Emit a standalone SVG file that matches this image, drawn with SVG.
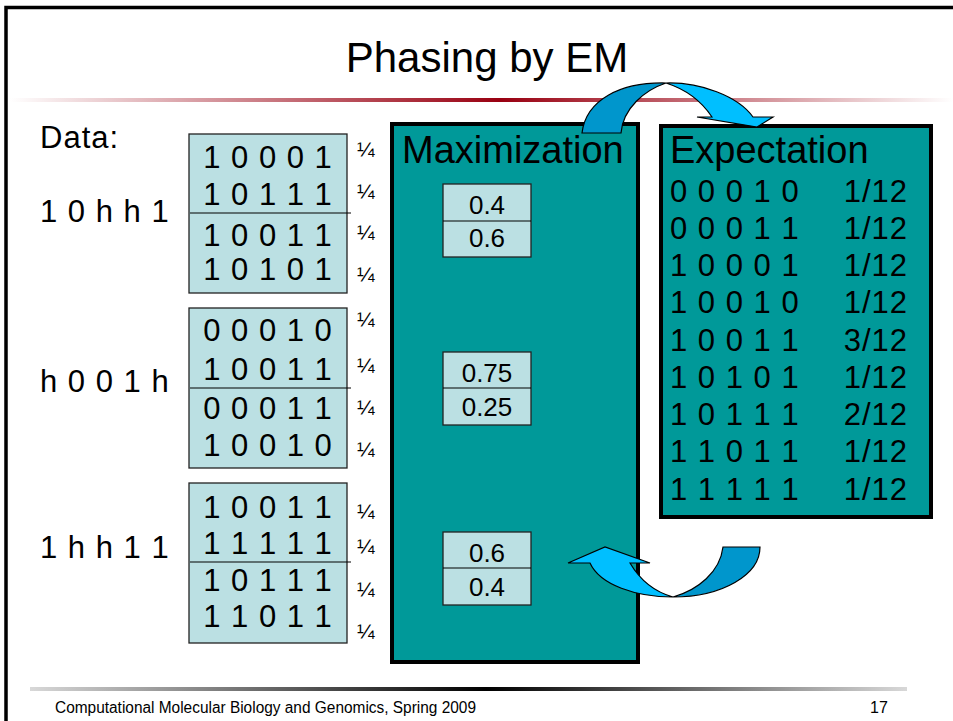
<svg xmlns="http://www.w3.org/2000/svg" width="953" height="721" viewBox="0 0 953 721">
<defs>
<linearGradient id="redline" x1="0" y1="0" x2="1" y2="0">
<stop offset="0" stop-color="#ffffff"/>
<stop offset="0.52" stop-color="#990011"/>
<stop offset="1" stop-color="#ffffff"/>
</linearGradient>
<linearGradient id="grayline" x1="0" y1="0" x2="1" y2="0">
<stop offset="0" stop-color="#d8d8d8"/>
<stop offset="0.52" stop-color="#000000"/>
<stop offset="1" stop-color="#d8d8d8"/>
</linearGradient>
<style>
text{font-family:"Liberation Sans",Arial,sans-serif;fill:#000}
.hap{font-size:31px;letter-spacing:1px}
.lbl{font-size:31px;letter-spacing:1px}
.q{font-size:21px}
.big{font-size:38px}
.num{font-size:26px;text-anchor:middle}
.lbox{fill:#BBE0E3;stroke:#222;stroke-width:1.3}
.div{stroke:#000;stroke-width:1.2}
.panel{fill:#009999;stroke:#000;stroke-width:4}
.dark{fill:#0096CC;stroke:#000;stroke-width:1.2}
.light{fill:#00BFFF;stroke:#000;stroke-width:1.2}
.fr{text-anchor:end}
.foot{font-size:16px}
</style>
</defs>
<rect x="0" y="0" width="953" height="721" fill="#fff"/>
<path d="M6 721 V7.5 H953" fill="none" stroke="#000" stroke-width="3.5"/>
<g id="title">
<text x="487" y="72" font-size="42" text-anchor="middle">Phasing by EM</text>
<rect x="10" y="98" width="943" height="4" fill="url(#redline)"/>
</g>
<g id="data-label"><text class="lbl" x="40" y="148">Data:</text></g>
<g id="genotype1">
<text class="lbl" x="40" y="222">1 0 h h 1</text>
<rect class="lbox" x="189" y="134" width="158" height="159"/>
<line class="div" x1="190" y1="213" x2="351" y2="213"/>
<text class="hap" x="268" y="168" text-anchor="middle">1 0 0 0 1</text>
<text class="hap" x="268" y="205" text-anchor="middle">1 0 1 1 1</text>
<text class="hap" x="268" y="246" text-anchor="middle">1 0 0 1 1</text>
<text class="hap" x="268" y="280" text-anchor="middle">1 0 1 0 1</text>
<text class="q" x="357" y="156">¼</text>
<text class="q" x="357" y="198">¼</text>
<text class="q" x="357" y="239">¼</text>
<text class="q" x="357" y="281">¼</text>
</g>
<g id="genotype2">
<text class="lbl" x="40" y="392">h 0 0 1 h</text>
<rect class="lbox" x="189" y="308" width="158" height="160"/>
<line class="div" x1="190" y1="388" x2="351" y2="388"/>
<text class="hap" x="268" y="341" text-anchor="middle">0 0 0 1 0</text>
<text class="hap" x="268" y="380" text-anchor="middle">1 0 0 1 1</text>
<text class="hap" x="268" y="419" text-anchor="middle">0 0 0 1 1</text>
<text class="hap" x="268" y="456" text-anchor="middle">1 0 0 1 0</text>
<text class="q" x="357" y="326">¼</text>
<text class="q" x="357" y="372">¼</text>
<text class="q" x="357" y="414">¼</text>
<text class="q" x="357" y="456">¼</text>
</g>
<g id="genotype3">
<text class="lbl" x="40" y="558">1 h h 1 1</text>
<rect class="lbox" x="189" y="483" width="158" height="160"/>
<line class="div" x1="190" y1="562" x2="351" y2="562"/>
<text class="hap" x="268" y="518" text-anchor="middle">1 0 0 1 1</text>
<text class="hap" x="268" y="554" text-anchor="middle">1 1 1 1 1</text>
<text class="hap" x="268" y="591" text-anchor="middle">1 0 1 1 1</text>
<text class="hap" x="268" y="627" text-anchor="middle">1 1 0 1 1</text>
<text class="q" x="357" y="518">¼</text>
<text class="q" x="357" y="553">¼</text>
<text class="q" x="357" y="596">¼</text>
<text class="q" x="357" y="638">¼</text>
</g>
<g id="maximization">
<rect class="panel" x="392" y="124" width="246" height="538"/>
<text class="big" x="402" y="163">Maximization</text>
<rect class="lbox" x="443" y="184" width="88" height="73"/>
<line class="div" x1="443" y1="221" x2="531" y2="221"/>
<text class="num" x="487" y="214">0.4</text>
<text class="num" x="487" y="247">0.6</text>
<rect class="lbox" x="443" y="352" width="88" height="73"/>
<line class="div" x1="443" y1="388" x2="531" y2="388"/>
<text class="num" x="487" y="382">0.75</text>
<text class="num" x="487" y="416">0.25</text>
<rect class="lbox" x="443" y="532" width="88" height="73"/>
<line class="div" x1="443" y1="568" x2="531" y2="568"/>
<text class="num" x="487" y="562">0.6</text>
<text class="num" x="487" y="596">0.4</text>
</g>
<g id="expectation">
<rect class="panel" x="661" y="126" width="270" height="391"/>
<text class="big" x="670" y="163">Expectation</text>
<text class="hap" x="670" y="202">0 0 0 1 0</text><text class="hap fr" x="908" y="202">1/12</text>
<text class="hap" x="670" y="239">0 0 0 1 1</text><text class="hap fr" x="908" y="239">1/12</text>
<text class="hap" x="670" y="276">1 0 0 0 1</text><text class="hap fr" x="908" y="276">1/12</text>
<text class="hap" x="670" y="313">1 0 0 1 0</text><text class="hap fr" x="908" y="313">1/12</text>
<text class="hap" x="670" y="351">1 0 0 1 1</text><text class="hap fr" x="908" y="351">3/12</text>
<text class="hap" x="670" y="388">1 0 1 0 1</text><text class="hap fr" x="908" y="388">1/12</text>
<text class="hap" x="670" y="425">1 0 1 1 1</text><text class="hap fr" x="908" y="425">2/12</text>
<text class="hap" x="670" y="462">1 1 0 1 1</text><text class="hap fr" x="908" y="462">1/12</text>
<text class="hap" x="670" y="500">1 1 1 1 1</text><text class="hap fr" x="908" y="500">1/12</text>
</g>
<g id="connectors">
<path class="dark" d="M582 133 C586 100 620 82 666 83 C645 90 623 108 621 133 Z"/>
<path class="light" d="M666 83 C700 82 738 96 753 117 L773 117 L757 127 L697 117 L712 117 C702 102 688 90 666 83 Z"/>
<path class="dark" d="M760 547 C760 575 722 597 673 597 C698 590 720 572 723 547 Z"/>
<path class="light" d="M673 597 C636 597 600 585 590 563 L568 563 L605 547 L650 563 L630 563 C640 580 655 592 673 597 Z"/>
</g>
<g id="footer">
<rect x="30" y="687" width="877" height="4" fill="url(#grayline)"/>
<text class="foot" x="55" y="713" textLength="421" lengthAdjust="spacingAndGlyphs">Computational Molecular Biology and Genomics, Spring 2009</text>
<text class="foot" x="870" y="713">17</text>
</g>
</svg>
